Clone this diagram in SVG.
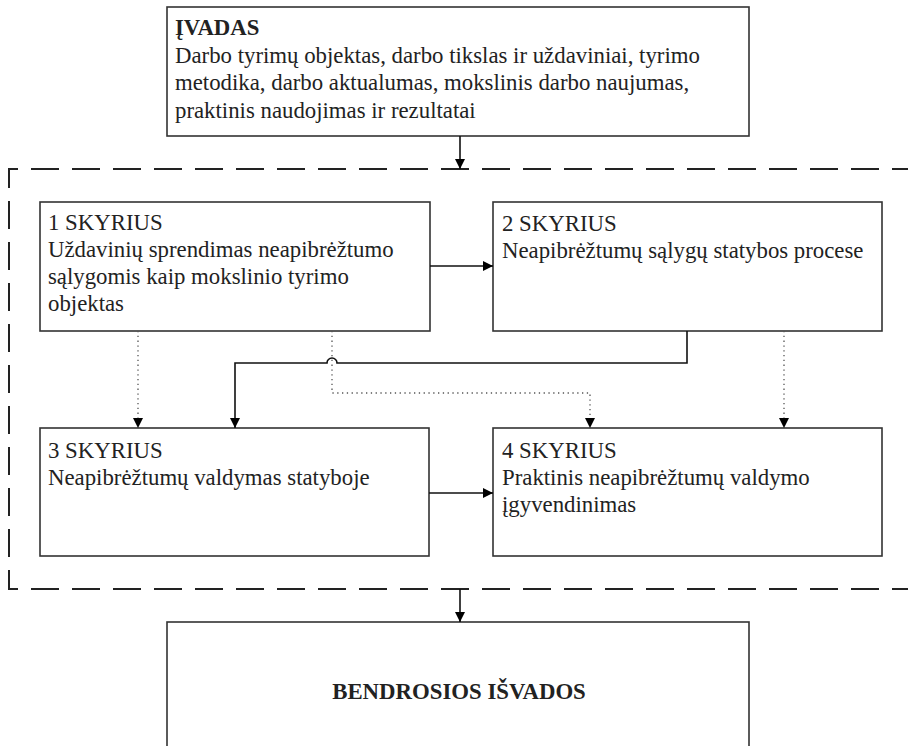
<svg xmlns="http://www.w3.org/2000/svg" width="908" height="746" viewBox="0 0 908 746">
<style>
.box{fill:#fff;stroke:#333;stroke-width:1.6}
.t{font-family:"Liberation Serif","Times New Roman",Times,serif;font-size:22.8px;fill:#222}
.b{font-weight:bold}
.solid{fill:none;stroke:#111;stroke-width:1.6}
.dot{fill:none;stroke:#555;stroke-width:1.3;stroke-dasharray:1.3 3.5}
.dash{fill:none;stroke:#222;stroke-width:2;stroke-dasharray:28 13}
</style>
<defs>
<marker id="ah" viewBox="0 0 10 10" refX="10" refY="5" markerWidth="10" markerHeight="10" markerUnits="userSpaceOnUse" orient="auto">
<path d="M0,0 L10,5 L0,10 z" fill="#000"/>
</marker>
</defs>
<rect width="908" height="746" fill="#fff"/>
<g id="frame">
<path class="dash" d="M920,169 L9,169 L9,589 L920,589"/>
</g>
<g id="ivadas">
<rect class="box" x="167" y="7" width="582" height="129"/>
<text class="t" x="175" y="35"><tspan class="b" x="175">ĮVADAS</tspan><tspan x="175" dy="27.5">Darbo tyrimų objektas, darbo tikslas ir uždaviniai, tyrimo</tspan><tspan x="175" dy="27.5">metodika, darbo aktualumas, mokslinis darbo naujumas,</tspan><tspan x="175" dy="27.5">praktinis naudojimas ir rezultatai</tspan></text>
</g>
<g id="s1">
<rect class="box" x="40" y="202" width="390" height="129"/>
<text class="t" x="48" y="230"><tspan x="48">1 SKYRIUS</tspan><tspan x="48" dy="27">Uždavinių sprendimas neapibrėžtumo</tspan><tspan x="48" dy="27">sąlygomis kaip mokslinio tyrimo</tspan><tspan x="48" dy="27">objektas</tspan></text>
</g>
<g id="s2">
<rect class="box" x="493" y="202" width="389" height="129"/>
<text class="t" x="502" y="231"><tspan x="502">2 SKYRIUS</tspan><tspan x="502" dy="27">Neapibrėžtumų sąlygų statybos procese</tspan></text>
</g>
<g id="s3">
<rect class="box" x="40" y="428" width="389" height="128"/>
<text class="t" x="48" y="458"><tspan x="48">3 SKYRIUS</tspan><tspan x="48" dy="27">Neapibrėžtumų valdymas statyboje</tspan></text>
</g>
<g id="s4">
<rect class="box" x="493" y="428" width="389" height="128"/>
<text class="t" x="502" y="458"><tspan x="502">4 SKYRIUS</tspan><tspan x="502" dy="27">Praktinis neapibrėžtumų valdymo</tspan><tspan x="502" dy="27">įgyvendinimas</tspan></text>
</g>
<g id="isvados">
<rect class="box" x="167" y="622" width="582" height="140"/>
<text class="t b" x="459" y="699" text-anchor="middle">BENDROSIOS IŠVADOS</text>
</g>
<g id="connectors">
<path class="solid" d="M460,136 L460,169" marker-end="url(#ah)"/>
<path class="solid" d="M460,589 L460,622" marker-end="url(#ah)"/>
<path class="solid" d="M430,266 L493,266" marker-end="url(#ah)"/>
<path class="solid" d="M429,493 L493,493" marker-end="url(#ah)"/>
<path class="solid" d="M687,331 L687,363 L337,363 A5,5 0 0 0 327,363 L235,363 L235,428" marker-end="url(#ah)"/>
<path class="dot" d="M138,331 L138,428" marker-end="url(#ah)"/>
<path class="dot" d="M332,331 L332,393 L590,393 L590,428" marker-end="url(#ah)"/>
<path class="dot" d="M784,331 L784,428" marker-end="url(#ah)"/>
</g>
</svg>
